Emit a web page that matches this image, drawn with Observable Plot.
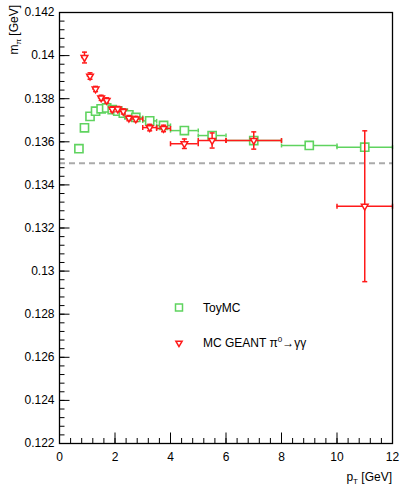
<!DOCTYPE html>
<html>
<head>
<meta charset="utf-8">
<script src="https://cdn.jsdelivr.net/npm/d3@7"></script>
<script src="https://cdn.jsdelivr.net/npm/@observablehq/plot@0.6"></script>
<style>
  html, body { margin: 0; padding: 0; background: #fff; }
  #chart { width: 400px; height: 490px; }
</style>
</head>
<body>
<div id="chart"></div>
<script>
// ---- data ----
const toyPt    = [0.7, 0.9, 1.1, 1.3, 1.5, 1.7, 1.9, 2.1, 2.3, 2.5, 2.75, 3.25, 3.75, 4.5, 5.5, 7, 9, 11];
const toyPtErr = [0.1, 0.1, 0.1, 0.1, 0.1, 0.1, 0.1, 0.1, 0.1, 0.1, 0.25, 0.25, 0.25, 0.5, 0.5, 1, 1, 1];
const toyMass  = [0.13568, 0.13665, 0.13718, 0.13742, 0.13753, 0.13757, 0.13749, 0.13742, 0.13733, 0.13725,
                  0.13713, 0.13697, 0.13676, 0.13652, 0.13629, 0.13606, 0.13583, 0.13575];

const geantPt      = [0.9, 1.1, 1.3, 1.5, 1.7, 1.9, 2.1, 2.3, 2.5, 2.75, 3.25, 3.75, 4.5, 5.5, 7, 11];
const geantPtErr   = [0.1, 0.1, 0.1, 0.1, 0.1, 0.1, 0.1, 0.1, 0.1, 0.25, 0.25, 0.25, 0.5, 0.5, 1, 1];
const geantMass    = [0.13991, 0.13905, 0.13845, 0.13804, 0.13792, 0.13751, 0.13752, 0.13741, 0.13710, 0.13706,
                      0.13666, 0.13662, 0.13591, 0.13606, 0.13606, 0.13301];
const geantMassErr = [0.00025, 0.00015, 0.00012, 0.00012, 0.00012, 0.00012, 0.00012, 0.00012, 0.00012, 0.00012,
                      0.00015, 0.00015, 0.00022, 0.00035, 0.0004, 0.0035];

const pi0Mass = [0.135];

const xMajorTicks = [0, 2, 4, 6, 8, 10, 12];
const yMajorTicks = [0.122, 0.124, 0.126, 0.128, 0.13, 0.132, 0.134, 0.136, 0.138, 0.14, 0.142];
const xMinorTicks = d3.range(0, 12.001, 0.4);
const yMinorTicks = d3.range(0.122, 0.14201, 0.0004);

const seriesNames = ["ToyMC", "MC GEANT \u03c0"];

// ---- tables ----
const toy = toyPt.map((x, i) => ({x, ex: toyPtErr[i], y: toyMass[i]}));
const geant = geantPt.map((x, i) => ({x, ex: geantPtErr[i], y: geantMass[i], ey: geantMassErr[i]}));
const geantWide = geant.filter(d => d.ex >= 0.25);

const G = "#5fd35f";
const R = "#ff1a1a";
const FONT = "'Liberation Sans', Arial, Helvetica, sans-serif";

const hCap = {draw(ctx, size) { const l = Math.sqrt(size / Math.PI); ctx.moveTo(-l, 0); ctx.lineTo(l, 0); }};
const vCap = {draw(ctx, size) { const l = Math.sqrt(size / Math.PI); ctx.moveTo(0, -l); ctx.lineTo(0, l); }};
const tickUp = {draw(ctx, size) { const l = Math.sqrt(size / Math.PI); ctx.moveTo(0, 0); ctx.lineTo(0, -l); }};
const tickRight = {draw(ctx, size) { const l = Math.sqrt(size / Math.PI); ctx.moveTo(0, 0); ctx.lineTo(l, 0); }};

const fmt = d => String(+d.toFixed(4));

const plot = Plot.plot({
  width: 400,
  height: 490,
  marginLeft: 59,
  marginRight: 8,
  marginTop: 12,
  marginBottom: 47,
  style: {fontFamily: FONT, fontSize: "12px", background: "white", color: "black"},
  x: {domain: [0, 12], label: null},
  y: {domain: [0.122, 0.142], label: null},
  marks: [
    // axes: labels
    Plot.axisY(yMajorTicks, {tickSize: 0, tickPadding: 5, tickFormat: fmt, fontSize: 12}),
    Plot.axisX(xMajorTicks, {tickSize: 0, tickPadding: 9, tickFormat: fmt, fontSize: 12}),
    // axes: inward ticks
    Plot.dot(yMajorTicks, {y: d => d, frameAnchor: "left", symbol: tickRight, r: 10, stroke: "black", fill: "none", strokeWidth: 1}),
    Plot.dot(yMinorTicks, {y: d => d, frameAnchor: "left", symbol: tickRight, r: 5, stroke: "black", fill: "none", strokeWidth: 1}),
    Plot.dot(xMajorTicks, {x: d => d, frameAnchor: "bottom", symbol: tickUp, r: 11, stroke: "black", fill: "none", strokeWidth: 1}),
    Plot.dot(xMinorTicks, {x: d => d, frameAnchor: "bottom", symbol: tickUp, r: 5.5, stroke: "black", fill: "none", strokeWidth: 1}),
    // reference line at the PDG pi0 mass
    Plot.ruleY(pi0Mass, {stroke: "#aaaaaa", strokeWidth: 2, strokeDasharray: "6,4"}),
    // ToyMC
    Plot.ruleY(toy, {y: "y", x1: d => d.x - d.ex, x2: d => d.x + d.ex, stroke: G, strokeWidth: 1.5}),
    Plot.dot(toy, {x: d => d.x - d.ex, y: "y", symbol: vCap, r: 2, stroke: G, fill: "none", strokeWidth: 1.5}),
    Plot.dot(toy, {x: d => d.x + d.ex, y: "y", symbol: vCap, r: 2, stroke: G, fill: "none", strokeWidth: 1.5}),
    Plot.dot(toy, {x: "x", y: "y", symbol: "square", r: 4.6, stroke: G, fill: "white", strokeWidth: 1.6}),
    // MC GEANT
    Plot.ruleY(geant, {y: "y", x1: d => d.x - d.ex, x2: d => d.x + d.ex, stroke: R, strokeWidth: 1.5}),
    Plot.ruleX(geant, {x: "x", y1: d => d.y - d.ey, y2: d => d.y + d.ey, stroke: R, strokeWidth: 1.5}),
    Plot.dot(geant, {x: "x", y: d => d.y - d.ey, symbol: hCap, r: 2.5, stroke: R, fill: "none", strokeWidth: 1.5}),
    Plot.dot(geant, {x: "x", y: d => d.y + d.ey, symbol: hCap, r: 2.5, stroke: R, fill: "none", strokeWidth: 1.5}),
    Plot.dot(geantWide, {x: d => d.x - d.ex, y: "y", symbol: vCap, r: 2.5, stroke: R, fill: "none", strokeWidth: 1.5}),
    Plot.dot(geantWide, {x: d => d.x + d.ex, y: "y", symbol: vCap, r: 2.5, stroke: R, fill: "none", strokeWidth: 1.5}),
    Plot.dot(geant, {x: "x", y: "y", symbol: "triangle2", rotate: 180, r: 3.2, stroke: R, fill: "white", strokeWidth: 1.5}),
    // frame
    Plot.frame({stroke: "black", strokeWidth: 1.3})
  ]
});

document.getElementById("chart").appendChild(plot);

// ---- axis titles and legend (text with sub/superscripts) ----
const svg = d3.select(plot);
const yTitle = svg.append("text")
  .attr("transform", "translate(18,5) rotate(-90)")
  .attr("text-anchor", "end")
  .attr("font-family", FONT).attr("font-size", 12).attr("fill", "black");
yTitle.append("tspan").text("m");
yTitle.append("tspan").attr("font-size", 8).attr("dy", 3).text("\u03c0");
yTitle.append("tspan").attr("dy", -3).text(" [GeV]");

const xTitle = svg.append("text")
  .attr("x", 392).attr("y", 481)
  .attr("text-anchor", "end")
  .attr("font-family", FONT).attr("font-size", 12).attr("fill", "black");
xTitle.append("tspan").text("p");
xTitle.append("tspan").attr("font-size", 8).attr("dy", 3).text("T");
xTitle.append("tspan").attr("dy", -3).text(" [GeV]");

// legend
const lg = svg.append("g").attr("font-family", FONT).attr("font-size", 12).attr("fill", "black")
  .attr("text-anchor", "start");
lg.append("path")
  .attr("d", d3.symbol(d3.symbolSquare, 49)())
  .attr("transform", "translate(179,307.5)")
  .attr("fill", "white").attr("stroke", G).attr("stroke-width", 1.5);
lg.append("text").attr("x", 203).attr("y", 312).attr("text-anchor", "start").text(seriesNames[0]);
lg.append("path")
  .attr("d", d3.symbol(d3.symbolTriangle2, 28)())
  .attr("transform", "translate(179,343) rotate(180)")
  .attr("fill", "white").attr("stroke", R).attr("stroke-width", 1.5);
const t2 = lg.append("text").attr("x", 203).attr("y", 347).attr("text-anchor", "start");
t2.append("tspan").text(seriesNames[1]);
t2.append("tspan").attr("font-size", 8).attr("dy", -5).text("0");
t2.append("tspan").attr("dy", 5).text("\u2192\u03b3\u03b3");
</script>
</body>
</html>
